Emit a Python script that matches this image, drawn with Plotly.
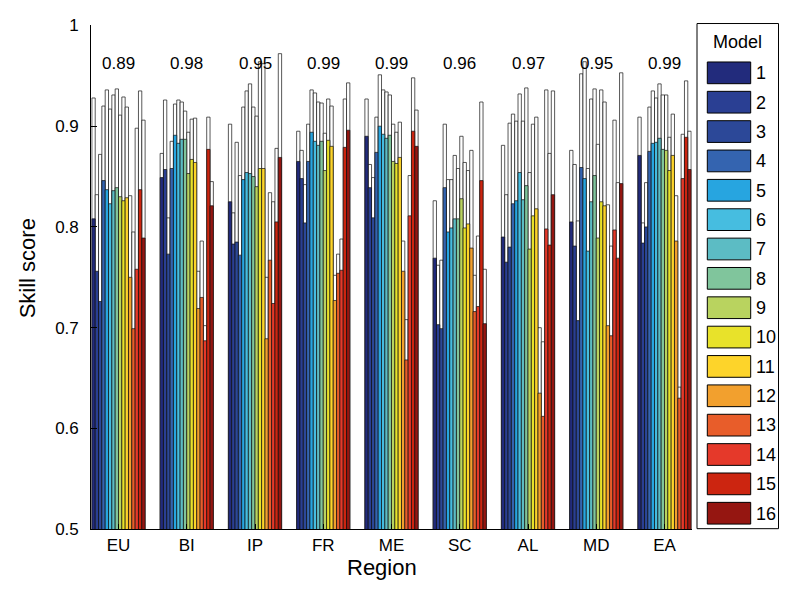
import plotly.graph_objects as go

W, H = 786, 589

regions = ["EU", "BI", "IP", "FR", "ME", "SC", "AL", "MD", "EA"]
corr_labels = ["0.89", "0.98", "0.95", "0.99", "0.99", "0.96", "0.97", "0.95", "0.99"]
models = [str(i) for i in range(1, 17)]
colors = ["#222b7c", "#2a3f93", "#2c4898", "#3464b0", "#27a5e0", "#46bde0",
          "#5cbcc4", "#80c59c", "#b9d35f", "#e8e22a", "#fdd42a", "#f2a02e",
          "#e85d2a", "#e5392a", "#cc2510", "#951611"]

# skill score (coloured bars), per region, models 1..16
skill_EU = [0.808, 0.756, 0.726, 0.846, 0.837, 0.823, 0.836, 0.839, 0.830, 0.826, 0.829, 0.750, 0.699, 0.758, 0.837, 0.789]
skill_BI = [0.849, 0.857, 0.773, 0.858, 0.891, 0.883, 0.887, 0.887, 0.853, 0.867, 0.864, 0.719, 0.730, 0.687, 0.877, 0.821]
skill_IP = [0.825, 0.783, 0.785, 0.772, 0.847, 0.854, 0.853, 0.850, 0.840, 0.858, 0.858, 0.689, 0.767, 0.724, 0.805, 0.869]
skill_FR = [0.865, 0.848, 0.804, 0.865, 0.894, 0.885, 0.881, 0.885, 0.856, 0.886, 0.880, 0.727, 0.754, 0.757, 0.879, 0.896]
skill_ME = [0.890, 0.839, 0.809, 0.874, 0.900, 0.892, 0.888, 0.891, 0.865, 0.863, 0.869, 0.756, 0.668, 0.811, 0.895, 0.880]
skill_SC = [0.769, 0.703, 0.699, 0.839, 0.795, 0.799, 0.808, 0.808, 0.828, 0.799, 0.803, 0.779, 0.716, 0.721, 0.846, 0.704]
skill_AL = [0.790, 0.765, 0.780, 0.823, 0.826, 0.854, 0.827, 0.841, 0.778, 0.811, 0.818, 0.635, 0.612, 0.798, 0.782, 0.832]
skill_MD = [0.805, 0.781, 0.707, 0.859, 0.848, 0.776, 0.825, 0.851, 0.789, 0.825, 0.821, 0.702, 0.692, 0.797, 0.769, 0.843]
skill_EA = [0.871, 0.784, 0.800, 0.875, 0.883, 0.884, 0.888, 0.877, 0.876, 0.856, 0.871, 0.786, 0.630, 0.848, 0.889, 0.857]

# upper values (white bars)
upper_EU = [0.928, 0.832, 0.872, 0.920, 0.936, 0.917, 0.931, 0.937, 0.911, 0.929, 0.919, 0.831, 0.795, 0.898, 0.935, 0.906]
upper_BI = [0.873, 0.926, 0.809, 0.885, 0.922, 0.926, 0.924, 0.915, 0.894, 0.907, 0.908, 0.756, 0.786, 0.702, 0.909, 0.845]
upper_IP = [0.902, 0.814, 0.884, 0.851, 0.919, 0.935, 0.942, 0.919, 0.910, 0.964, 0.962, 0.750, 0.834, 0.825, 0.878, 0.972]
upper_FR = [0.895, 0.876, 0.842, 0.902, 0.936, 0.933, 0.924, 0.923, 0.893, 0.927, 0.920, 0.752, 0.773, 0.788, 0.927, 0.943]
upper_ME = [0.927, 0.862, 0.849, 0.909, 0.951, 0.936, 0.934, 0.931, 0.902, 0.894, 0.904, 0.786, 0.708, 0.851, 0.948, 0.916]
upper_SC = [0.826, 0.762, 0.767, 0.902, 0.847, 0.847, 0.871, 0.858, 0.890, 0.864, 0.856, 0.876, 0.752, 0.791, 0.924, 0.758]
upper_AL = [0.881, 0.832, 0.903, 0.912, 0.905, 0.932, 0.905, 0.938, 0.854, 0.902, 0.909, 0.700, 0.686, 0.936, 0.873, 0.935]
upper_MD = [0.876, 0.862, 0.806, 0.952, 0.964, 0.858, 0.927, 0.937, 0.882, 0.936, 0.924, 0.822, 0.781, 0.906, 0.844, 0.953]
upper_EA = [0.909, 0.804, 0.844, 0.919, 0.935, 0.928, 0.942, 0.931, 0.931, 0.889, 0.912, 0.831, 0.641, 0.892, 0.945, 0.895]

skill = [skill_EU, skill_BI, skill_IP, skill_FR, skill_ME, skill_SC, skill_AL, skill_MD, skill_EA]
upper = [upper_EU, upper_BI, upper_IP, upper_FR, upper_ME, upper_SC, upper_AL, upper_MD, upper_EA]

yticks = [0.5, 0.6, 0.7, 0.8, 0.9, 1.0]
yticktext = ["0.5", "0.6", "0.7", "0.8", "0.9", "1"]

FONT = "Liberation Sans, Arial, Helvetica, sans-serif"
group_w = 0.78
bw = group_w / len(models)

fig = go.Figure()
for m in range(len(models)):
    fig.add_trace(go.Bar(
        x=regions, y=[u[m] for u in upper], width=bw, offset=-group_w / 2 + m * bw,
        marker=dict(color="white", line=dict(color="#111111", width=0.7)),
        showlegend=False, hoverinfo="skip"))
for m in range(len(models)):
    fig.add_trace(go.Bar(
        x=regions, y=[s[m] for s in skill], width=bw, offset=-group_w / 2 + m * bw,
        marker=dict(color=colors[m], line=dict(color="#111111", width=0.7)),
        name=models[m], showlegend=False))

# legend drawn as a small bar panel
fig.add_trace(go.Bar(
    x=[1] * len(models), y=models, orientation="h", width=0.74,
    marker=dict(color=colors, line=dict(color="black", width=1)),
    xaxis="x2", yaxis="y2", showlegend=False, hoverinfo="skip"))

def px(x):
    return x / W

def py(y):
    return 1 - y / H

fig.update_layout(
    width=W, height=H, margin=dict(l=0, r=0, t=0, b=0),
    paper_bgcolor="white", plot_bgcolor="white",
    barmode="overlay",
    font=dict(family=FONT, color="black", size=17),
    xaxis=dict(domain=[px(91.2), px(691.8)], range=[-0.4, 8.4],
               type="category", categoryorder="array", categoryarray=regions,
               showline=True, linecolor="black", linewidth=1,
               ticks="inside", ticklen=5, tickcolor="black",
               showgrid=False, zeroline=False, tickfont=dict(size=17)),
    yaxis=dict(domain=[py(537.5), py(17)], range=[0.5, 1.0],
               tickvals=yticks, ticktext=yticktext,
               showline=True, linecolor="black", linewidth=1,
               ticks="inside", ticklen=6, tickcolor="black",
               showgrid=False, zeroline=False, tickfont=dict(size=17),
               ticklabelstandoff=8),
    xaxis2=dict(domain=[px(706), px(752)], range=[-0.03, 1.03], anchor="y2",
                visible=False),
    yaxis2=dict(domain=[py(536.2), py(50.8)], anchor="x2", type="category",
                range=[15.5, -0.5], side="right", showline=False, ticks="",
                showgrid=False, zeroline=False, tickfont=dict(size=18),
                ticklabelstandoff=3),
    shapes=[dict(type="rect", xref="paper", yref="paper",
                 x0=px(697), x1=px(778.5), y0=py(537), y1=py(15),
                 line=dict(color="black", width=1), fillcolor="rgba(0,0,0,0)")],
)

annotations = []
for r, lab in zip(regions, corr_labels):
    annotations.append(dict(x=r, y=0.962, xref="x", yref="y", text=lab,
                            showarrow=False, xanchor="center", yanchor="middle",
                            font=dict(size=17)))
annotations.append(dict(x=px(27), y=py(268), xref="paper", yref="paper",
                        text="Skill score", textangle=-90, showarrow=False,
                        xanchor="center", yanchor="middle", font=dict(size=22)))
annotations.append(dict(x=px(382), y=py(577), xref="paper", yref="paper",
                        text="Region", showarrow=False,
                        xanchor="center", yanchor="middle", font=dict(size=22)))
annotations.append(dict(x=px(737), y=py(34), xref="paper", yref="paper",
                        text="Model", showarrow=False,
                        xanchor="center", yanchor="middle", font=dict(size=18)))
fig.update_layout(annotations=annotations)

fig.write_html("out.html")
